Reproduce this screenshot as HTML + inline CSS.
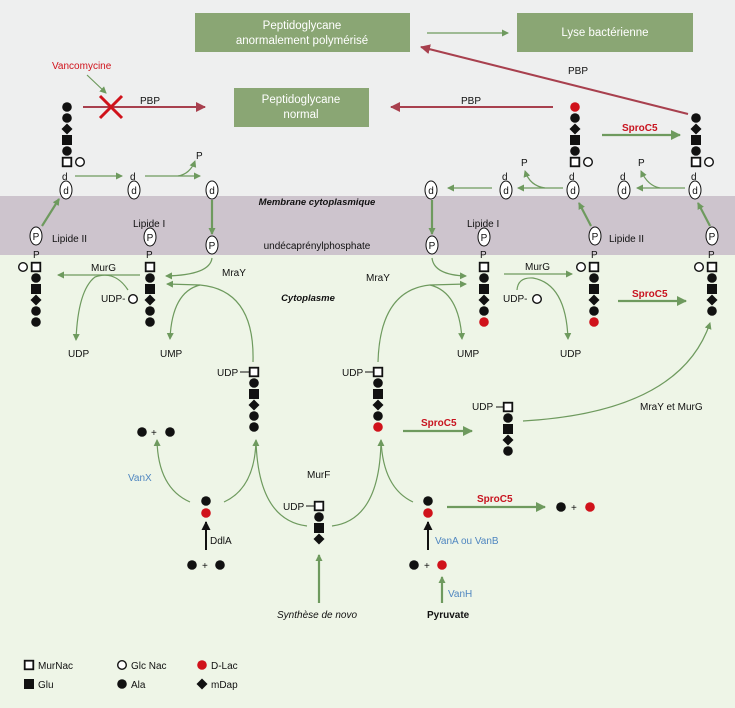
<!DOCTYPE html>
<html><head><meta charset="utf-8">
<style>
html,body{margin:0;padding:0;width:735px;height:708px;overflow:hidden;background:#eef5e7}
svg{display:block}
text{font-family:"Liberation Sans",sans-serif;font-size:10px;fill:#111}
.w{fill:#fff;font-size:11.5px}
.r{fill:#d0121b}
.rb{fill:#c8131f;font-weight:bold;font-size:10px}
.b{fill:#4f86c0}
.g{stroke:#6e9a5e;fill:none;stroke-width:1.2}
.gt{stroke:#6e9a5e;fill:none;stroke-width:2.2}
.pr{stroke:#a8404e;fill:none;stroke-width:2}
</style></head><body>
<svg id="s" width="735" height="708" viewBox="0 0 735 708" xmlns="http://www.w3.org/2000/svg">
<defs>
<marker id="ag" markerWidth="8" markerHeight="8" refX="6" refY="4" orient="auto" markerUnits="userSpaceOnUse"><path d="M0,0.5 L7,4 L0,7.5z" fill="#6e9a5e"/></marker>
<marker id="agb" markerWidth="12" markerHeight="12" refX="9" refY="6" orient="auto" markerUnits="userSpaceOnUse"><path d="M0,1 L10,6 L0,11z" fill="#6e9a5e"/></marker>
<marker id="ar" markerWidth="12" markerHeight="12" refX="9" refY="6" orient="auto" markerUnits="userSpaceOnUse"><path d="M0,1 L10,6 L0,11z" fill="#a8404e"/></marker>
<marker id="ak" markerWidth="10" markerHeight="10" refX="8" refY="5" orient="auto" markerUnits="userSpaceOnUse"><path d="M0,0.5 L9,5 L0,9.5z" fill="#111"/></marker>
</defs>
<rect x="0" y="0" width="735" height="196" fill="#eeefef"/>
<rect x="0" y="196" width="735" height="59" fill="#cdc4cd"/>
<rect x="0" y="255" width="735" height="453" fill="#eef5e7"/>

<rect x="195" y="13" width="215" height="39" fill="#8aa674"/>
<text class="w" x="302" y="29" text-anchor="middle">Peptidoglycane</text>
<text class="w" x="302" y="44" text-anchor="middle">anormalement polymérisé</text>
<rect x="517" y="13" width="176" height="39" fill="#8aa674"/>
<text class="w" x="605" y="36" text-anchor="middle">Lyse bactérienne</text>
<rect x="234" y="88" width="135" height="39" fill="#8aa674"/>
<text class="w" x="301" y="103" text-anchor="middle">Peptidoglycane</text>
<text class="w" x="301" y="118" text-anchor="middle">normal</text>
<line x1="427" y1="33" x2="508" y2="33" class="g" marker-end="url(#ag)"/>
<line x1="688" y1="114" x2="421" y2="47" class="pr" marker-end="url(#ar)"/>
<text x="568" y="74">PBP</text>
<line x1="553" y1="107" x2="391" y2="107" class="pr" marker-end="url(#ar)"/>
<text x="461" y="104">PBP</text>
<line x1="83" y1="107" x2="205" y2="107" class="pr" marker-end="url(#ar)"/>
<text x="140" y="104">PBP</text>
<path d="M100,96 L122,118 M122,96 L100,118" stroke="#d0121b" stroke-width="3"/>
<text class="r" x="52" y="69">Vancomycine</text>
<line x1="87" y1="75" x2="106" y2="93" class="g" marker-end="url(#ag)"/>

<text x="317" y="205" text-anchor="middle" style="font-weight:bold;font-style:italic;font-size:9.5px">Membrane cytoplasmique</text>
<text x="317" y="249" text-anchor="middle">undécaprénylphosphate</text>
<text x="308" y="301" text-anchor="middle" style="font-weight:bold;font-style:italic;font-size:9.5px">Cytoplasme</text>

<text x="62" y="180">d</text><text x="130" y="180">d</text><text x="569" y="180">d</text>
<text x="502" y="180">d</text><text x="691" y="180">d</text><text x="620" y="180">d</text>
<text x="196" y="159">P</text><text x="521" y="166">P</text><text x="638" y="166">P</text>
<text x="33" y="258">P</text><text x="146" y="258">P</text><text x="480" y="258">P</text>
<text x="591" y="258">P</text><text x="708" y="258">P</text>

<text x="52" y="242">Lipide II</text>
<text x="133" y="227">Lipide I</text>
<text x="467" y="227">Lipide I</text>
<text x="609" y="242">Lipide II</text>

<line x1="75" y1="176" x2="122" y2="176" class="g" marker-end="url(#ag)"/>
<line x1="145" y1="176" x2="200" y2="176" class="g" marker-end="url(#ag)"/>
<path d="M178,176 Q190,174 195,161" class="g" marker-end="url(#ag)"/>
<line x1="212" y1="200" x2="212" y2="234" class="gt" marker-end="url(#ag)"/>
<line x1="42" y1="226" x2="59" y2="199" class="gt" marker-end="url(#ag)"/>
<line x1="563" y1="188" x2="518" y2="188" class="g" marker-end="url(#ag)"/>
<path d="M545,188 Q530,186 525,171" class="g" marker-end="url(#ag)"/>
<line x1="492" y1="188" x2="448" y2="188" class="g" marker-end="url(#ag)"/>
<line x1="685" y1="188" x2="637" y2="188" class="g" marker-end="url(#ag)"/>
<path d="M660,188 Q648,186 641,171" class="g" marker-end="url(#ag)"/>
<line x1="432" y1="200" x2="432" y2="234" class="gt" marker-end="url(#ag)"/>
<line x1="591" y1="226" x2="579" y2="203" class="gt" marker-end="url(#ag)"/>
<line x1="710" y1="226" x2="698" y2="203" class="gt" marker-end="url(#ag)"/>
<line x1="602" y1="135" x2="680" y2="135" class="gt" marker-end="url(#agb)"/>
<text class="rb" x="622" y="131">SproC5</text>

<line x1="140" y1="275" x2="58" y2="275" class="g" marker-end="url(#ag)"/>
<text x="91" y="271">MurG</text>
<text x="101" y="302">UDP-</text>
<path d="M128,290 Q115,270 95,277 Q78,290 76,340" class="g" marker-end="url(#ag)"/>
<text x="68" y="357">UDP</text>
<path d="M212,258 Q210,275 166,276" class="g" marker-end="url(#ag)"/>
<text x="222" y="276">MraY</text>
<path d="M253,362 Q255,290 200,285 L167,284" class="g" marker-end="url(#ag)"/>
<path d="M200,285 Q172,292 170,339" class="g" marker-end="url(#ag)"/>
<text x="160" y="357">UMP</text>
<path d="M432,258 Q434,275 466,276" class="g" marker-end="url(#ag)"/>
<text x="366" y="281">MraY</text>
<path d="M378,362 Q380,290 430,285 L466,284" class="g" marker-end="url(#ag)"/>
<path d="M430,285 Q459,292 462,339" class="g" marker-end="url(#ag)"/>
<text x="457" y="357">UMP</text>
<line x1="504" y1="274" x2="572" y2="274" class="g" marker-end="url(#ag)"/>
<text x="525" y="270">MurG</text>
<text x="503" y="302">UDP-</text>
<path d="M517,290 Q518,277 533,278 Q566,284 568,339" class="g" marker-end="url(#ag)"/>
<text x="560" y="357">UDP</text>
<line x1="618" y1="301" x2="686" y2="301" class="gt" marker-end="url(#agb)"/>
<text class="rb" x="632" y="297">SproC5</text>

<text x="217" y="376">UDP</text><line x1="240" y1="372" x2="249" y2="372" stroke="#111"/>
<text x="342" y="376">UDP</text><line x1="365" y1="372" x2="374" y2="372" stroke="#111"/>
<text x="472" y="410">UDP</text><line x1="496" y1="407" x2="504" y2="407" stroke="#111"/>
<text x="283" y="510">UDP</text><line x1="306" y1="506" x2="315" y2="506" stroke="#111"/>
<line x1="403" y1="431" x2="472" y2="431" class="gt" marker-end="url(#agb)"/>
<text class="rb" x="421" y="426">SproC5</text>
<path d="M523,421 Q680,412 710,323" class="g" marker-end="url(#ag)"/>
<text x="640" y="410">MraY et MurG</text>
<text x="151" y="436">+</text>
<text class="b" x="128" y="481">VanX</text>
<path d="M190,502 Q158,488 157,440" class="g" marker-end="url(#ag)"/>
<path d="M224,502 Q255,488 256,440" class="g" marker-end="url(#ag)"/>
<path d="M307,526 Q258,520 256,440" class="g"/>
<path d="M332,526 Q380,520 381,440" class="g" marker-end="url(#ag)"/>
<path d="M413,502 Q383,488 381,440" class="g"/>
<text x="307" y="478">MurF</text>
<line x1="206" y1="550" x2="206" y2="522" stroke="#111" stroke-width="2" marker-end="url(#ak)"/>
<text x="210" y="544">DdlA</text>
<text x="202" y="569">+</text>
<line x1="428" y1="550" x2="428" y2="522" stroke="#111" stroke-width="2" marker-end="url(#ak)"/>
<text class="b" x="435" y="544">VanA ou VanB</text>
<text x="424" y="569">+</text>
<line x1="442" y1="603" x2="442" y2="577" class="gt" marker-end="url(#ag)"/>
<text class="b" x="448" y="597">VanH</text>
<text x="427" y="618" style="font-weight:bold">Pyruvate</text>
<line x1="319" y1="603" x2="319" y2="555" class="gt" marker-end="url(#ag)"/>
<text x="277" y="618" style="font-style:italic">Synthèse de novo</text>
<line x1="447" y1="507" x2="545" y2="507" class="gt" marker-end="url(#agb)"/>
<text class="rb" x="477" y="502">SproC5</text>
<text x="571" y="511">+</text>

<text x="38" y="669">MurNac</text><text x="131" y="669">Glc Nac</text><text x="211" y="669">D-Lac</text>
<text x="38" y="688">Glu</text><text x="131" y="688">Ala</text><text x="211" y="688">mDap</text>
<g id="shapes"></g>
</svg>
<script>
var g=document.getElementById('shapes'),NS='http://www.w3.org/2000/svg';
function el(t,a){var e=document.createElementNS(NS,t);for(var k in a)e.setAttribute(k,a[k]);g.appendChild(e);return e;}
function C(x,y,red){el('circle',{cx:x,cy:y,r:4.8,fill:red?'#d0121b':'#111'});}
function O(x,y){el('circle',{cx:x,cy:y,r:4.3,fill:'#fff',stroke:'#111','stroke-width':1.4});}
function S(x,y){el('rect',{x:x-5,y:y-5,width:10,height:10,fill:'#111'});}
function Q(x,y){el('rect',{x:x-4.3,y:y-4.3,width:8.6,height:8.6,fill:'#fff',stroke:'#111','stroke-width':1.8});}
function D(x,y){el('path',{d:'M'+x+','+(y-5.5)+' L'+(x+5.5)+','+y+' L'+x+','+(y+5.5)+' L'+(x-5.5)+','+y+'z',fill:'#111'});}
function OV(x,y,t){el('ellipse',{cx:x,cy:y,rx:6,ry:9,fill:'#fff',stroke:'#111','stroke-width':1});var e=el('text',{x:x,y:y+4,'text-anchor':'middle'});e.textContent=t;}
function chain(x,y,seq){for(var i=0;i<seq.length;i++){var c=seq[i],yy=y+i*11;
 if(c=='c')C(x,yy);else if(c=='r')C(x,yy,1);else if(c=='s')S(x,yy);else if(c=='q')Q(x,yy);else if(c=='d')D(x,yy);}}
chain(67,107,'ccdscq');O(80,162);
chain(575,107,'rcdscq');O(588,162);
chain(696,118,'cdscq');O(709,162);
OV(66,190,'d');OV(134,190,'d');OV(212,190,'d');
OV(573,190,'d');OV(506,190,'d');OV(431,190,'d');OV(695,190,'d');OV(624,190,'d');
OV(36,236,'P');OV(150,237,'P');OV(212,245,'P');
OV(432,245,'P');OV(484,237,'P');OV(595,236,'P');OV(712,236,'P');
chain(36,267,'qcsdcc');O(23,267);
chain(150,267,'qcsdcc');
O(133,299);
chain(484,267,'qcsdcr');
chain(594,267,'qcsdcr');O(581,267);
chain(712,267,'qcsdc');O(699,267);
O(537,299);
chain(254,372,'qcsdcc');
chain(378,372,'qcsdcr');
chain(508,407,'qcsdc');
chain(319,506,'qcsd');
C(142,432);C(170,432);
C(206,501);C(206,513,1);C(192,565);C(220,565);
C(428,501);C(428,513,1);C(414,565);C(442,565,1);
C(561,507);C(590,507,1);
Q(29,665);O(122,665);C(202,665,1);S(29,684);C(122,684);D(202,684);
</script>
</body></html>
